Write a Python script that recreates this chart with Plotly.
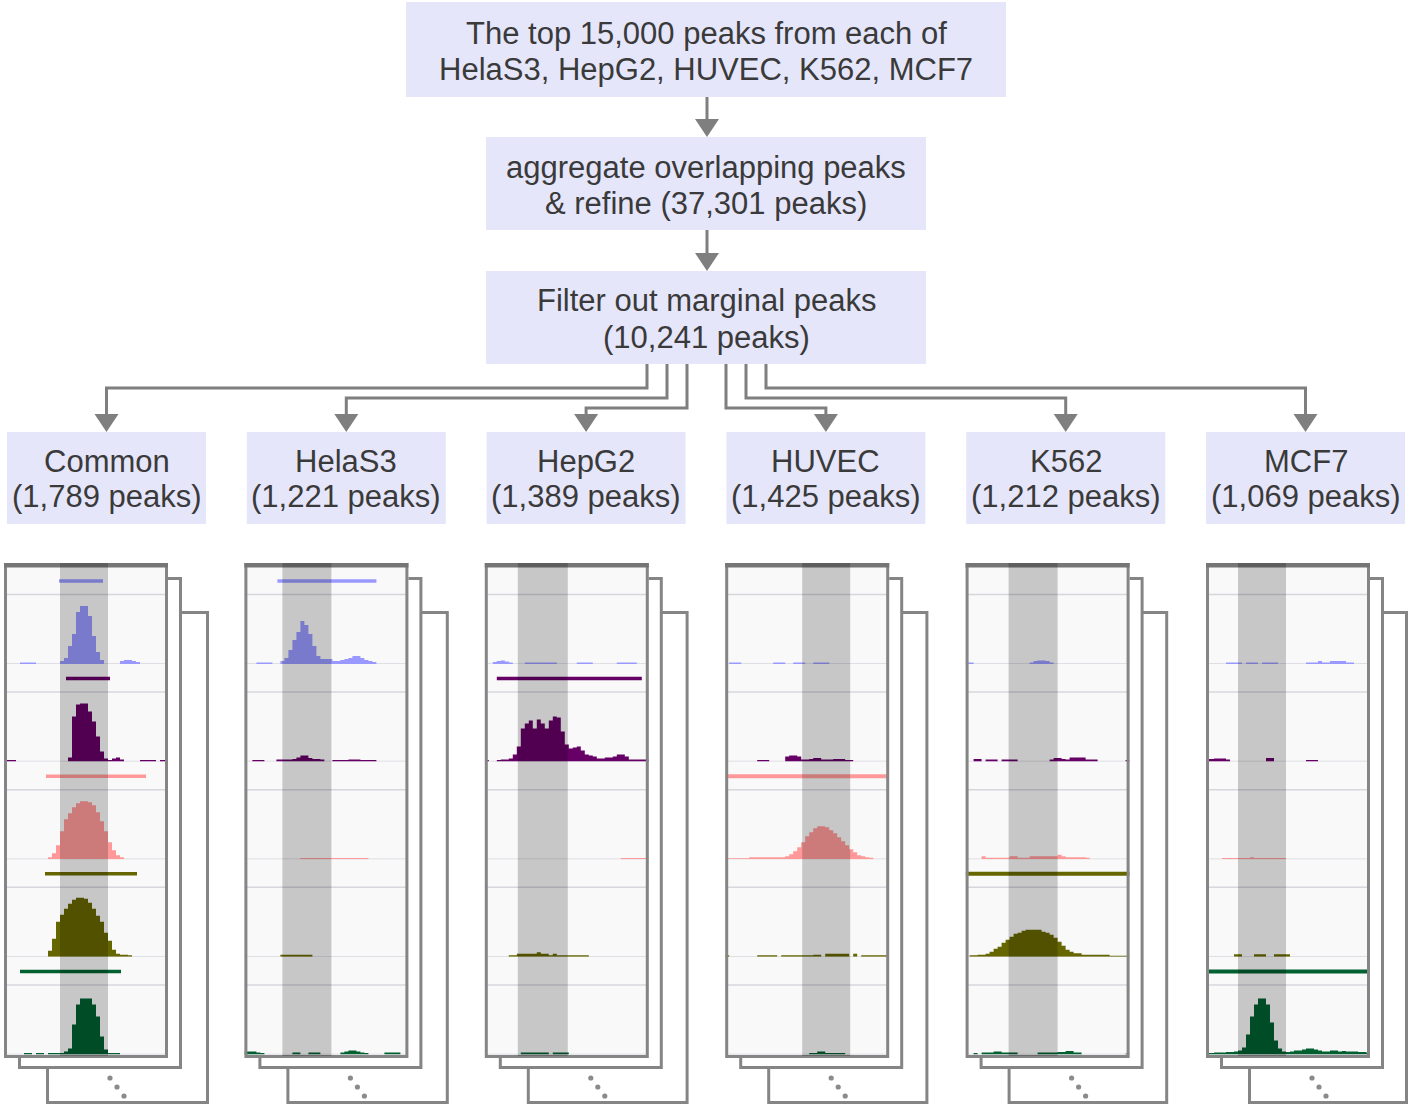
import plotly.graph_objects as go

FIG_W, FIG_H = 1408, 1105

# ---------------- flowchart text ----------------
SOURCE_LINES = ["The top 15,000 peaks from each of", "HelaS3, HepG2, HUVEC, K562, MCF7"]
MERGE_LINES = ["aggregate overlapping peaks", "& refine (37,301 peaks)"]
FILTER_LINES = ["Filter out marginal peaks", "(10,241 peaks)"]
GROUP_NAMES = ["Common", "HelaS3", "HepG2", "HUVEC", "K562", "MCF7"]
GROUP_COUNTS = ["1,789", "1,221", "1,389", "1,425", "1,212", "1,069"]

# ---------------- genome-browser tracks ----------------
TRACK_CELLS = ["HelaS3", "HepG2", "HUVEC", "K562", "MCF7"]
TRACK_COLORS = ["#9999ff", "#660066", "#ff9999", "#666600", "#006030"]
WINDOW = 164                       # width of the browser window (positions)
BIN_EDGES = list(range(0, WINDOW + 1, 4))   # 41 coverage bins
SEPARATOR_LEVEL = 69.5             # signal level of the row divider
PEAK_BAR_LEVEL = 83                # level at which called peaks are drawn
TRACK_TOP = 97.6

# highlighted group-specific region in each window
HIGHLIGHT_START = [56, 38, 33, 77, 43, 32]
HIGHLIGHT_END = [104, 87, 83, 125, 92, 80]

# called peak intervals (window, track, start, end)
PEAK_WINDOW = [0, 0, 0, 0, 0, 1, 2, 3, 4, 5]
PEAK_TRACK = [0, 1, 2, 3, 4, 0, 1, 2, 3, 4]
PEAK_START = [55, 62, 42, 41, 16, 33, 12, 0, 0, 0]
PEAK_END = [99, 106, 142, 133, 117, 132, 157, 164, 164, 164]

# coverage per bin, one list per cell line, for each window
COMMON_SIGNAL = [
    [0, 0, 0, 0, 1.5, 1.5, 1.5, 1.5, 0, 0, 0, 0, 0, 0, 3, 6, 18, 30, 52, 58,
     58, 48, 28, 12, 4, 0, 0, 0, 0, 3, 4, 4, 3, 2, 0, 0, 0, 0, 0, 0, 0],
    [1.5, 1.5, 1.5, 0, 0, 0, 0, 0, 0, 0, 0, 0, 0, 0, 0, 0, 4, 45, 57, 58,
     58, 50, 40, 25, 10, 3, 1.5, 3, 4, 2, 0, 0, 0, 0, 1.5, 1.5, 1.5, 1.5, 0, 1.5, 1.5],
    [0, 0, 0, 0, 0, 0, 0, 0, 0, 0, 0, 2, 6, 14, 28, 40, 46, 52, 56, 58,
     58, 57, 54, 47, 38, 28, 17, 9, 4, 2, 0, 0, 0, 0, 0, 0, 0, 0, 0, 0, 0],
    [0, 0, 0, 0, 0, 0, 0, 0, 0, 0, 0, 6, 18, 35, 42, 48, 53, 57, 59, 59,
     58, 54, 48, 41, 35, 24, 16, 7, 3, 2, 2, 1.5, 0, 0, 0, 0, 0, 0, 0, 0, 0],
    [0, 0, 0, 0, 0, 1.5, 1.5, 0, 1.5, 1.5, 0, 1.5, 1.5, 1.5, 1.5, 3, 6, 30, 50, 56,
     56, 56, 50, 38, 18, 5, 1.5, 1.5, 1.5, 0, 0, 0, 0, 0, 0, 0, 0, 0, 0, 0, 0],
]
HELAS3_SIGNAL = [
    [0, 0, 0, 1.5, 1.5, 1.5, 1.5, 0, 0, 3, 6, 14, 24, 32, 43, 39, 30, 18, 8, 5,
     5, 5, 3, 3, 4, 5, 6, 8, 8, 6, 4, 3, 2, 0, 0, 0, 0, 0, 0, 0, 0],
    [0, 0, 1.5, 1.5, 1.5, 0, 0, 0, 2, 2, 2, 2, 2.5, 4, 6, 6, 3.5, 2.5, 2.5, 2,
     0, 0, 1.5, 1.5, 1.5, 1.5, 2, 2, 2, 1.5, 1.5, 1.5, 1.5, 0, 0, 0, 0, 0, 0, 0, 0],
    [0, 0, 0, 0, 0, 0, 0, 0, 0, 0, 0, 0, 0, 0, 1.2, 1.2, 1.2, 1.2, 1.2, 1.2,
     1.2, 1.2, 1.2, 1.2, 1.2, 1.2, 1.2, 1.2, 1.2, 1.2, 1.2, 0, 0, 0, 0, 0, 0, 0, 0, 0, 0],
    [0, 0, 0, 0, 0, 0, 0, 0, 0, 2, 2, 2, 2, 2, 2, 2, 2, 0, 0, 0,
     0, 0, 0, 0, 0, 0, 0, 0, 0, 0, 0, 0, 0, 0, 0, 0, 0, 0, 0, 0, 0],
    [3, 3, 3, 2, 1.5, 0, 0, 0, 0, 0, 0, 0, 2, 2, 0, 0, 2, 2, 2, 0,
     0, 0, 0, 0, 2, 3, 4, 4, 3, 2, 1.5, 0, 0, 0, 0, 2, 2, 2, 2, 0, 0],
]
HEPG2_SIGNAL = [
    [0, 0, 2, 3, 3.5, 2.5, 1.5, 0, 0, 0, 1.5, 1.5, 1.5, 1.5, 1.5, 1.5, 1.5, 1.5, 0, 0,
     0, 0, 0, 1.5, 1.5, 1.5, 1.5, 0, 0, 0, 0, 0, 0, 1.5, 1.5, 1.5, 1.5, 1.5, 0, 0, 0],
    [1.5, 0, 0, 1.5, 2, 2, 3, 7, 15, 33, 38, 41, 33, 42, 38, 33, 41, 45, 44, 30,
     17, 13, 14, 15, 11, 7, 6, 5, 3, 3, 4, 4, 5, 7, 7, 5, 2, 2, 2, 2, 2],
    [0, 0, 0, 0, 0, 0, 0, 0, 0, 0, 0, 0, 0, 0, 0, 0, 0, 0, 0, 0,
     0, 0, 0, 0, 0, 0, 0, 0, 0, 0, 0, 0, 0, 0, 1.2, 1.2, 1.2, 1.2, 1.2, 1.2, 1.2],
    [0, 0, 0, 0, 0, 0, 1.5, 1.5, 3, 3, 3, 3, 3, 4.5, 3, 3, 1.5, 3, 1.5, 1.5,
     1.5, 1.5, 1.5, 1.5, 1.5, 1.5, 0, 0, 0, 0, 0, 0, 0, 0, 0, 0, 0, 0, 0, 0, 0],
    [0, 0, 0, 0, 0, 0, 0, 0, 0, 2, 2, 2, 2, 2, 2, 2, 0, 2, 2, 2,
     2, 0, 0, 0, 0, 0, 0, 0, 0, 0, 0, 0, 0, 0, 0, 0, 0, 0, 0, 0, 0],
]
HUVEC_SIGNAL = [
    [0, 1.5, 1.5, 1.5, 0, 0, 0, 0, 0, 0, 0, 0, 1.5, 1.5, 1.5, 0, 0, 1.5, 1.5, 1.5,
     0, 0, 1.5, 1.5, 1.5, 1.5, 0, 0, 0, 0, 0, 0, 0, 0, 0, 0, 0, 0, 0, 0, 0],
    [0, 0, 0, 0, 0, 0, 0, 0, 1.5, 1.5, 1.5, 0, 0, 0, 0, 5, 6, 6, 5, 2,
     2, 2.5, 3.5, 3.5, 2, 2, 2, 2.5, 2.5, 2.5, 1.5, 1.5, 0, 0, 0, 0, 0, 0, 0, 0, 0],
    [1, 1, 1, 1, 1, 1, 2, 2, 2, 2, 2, 2, 2, 2, 2, 3, 5, 8, 12, 17,
     23, 27, 31, 33, 33, 32, 29, 26, 22, 18, 14, 10, 7, 4, 3, 2, 1.5, 0, 0, 0, 0],
    [1.5, 0, 0, 0, 0, 0, 0, 0, 1.5, 1.5, 1.5, 1.5, 1.5, 0, 1.5, 1.5, 1.5, 1.5, 1.5, 1.5,
     1.5, 1.5, 2, 2, 0, 3, 3, 3, 3, 3, 3, 0, 3, 0, 1.5, 1.5, 1.5, 1.5, 1.5, 1.5, 1.5],
    [0, 0, 0, 0, 0, 0, 0, 0, 0, 0, 0, 0, 0, 0, 0, 0, 0, 0, 0, 0,
     0, 1.5, 1.5, 3, 3, 1.5, 1.5, 1.5, 1.5, 1.5, 0, 0, 0, 0, 0, 0, 0, 0, 0, 0, 0],
]
K562_SIGNAL = [
    [1.5, 1.5, 0, 0, 0, 0, 0, 0, 0, 0, 0, 0, 0, 0, 0, 0, 1.5, 3, 3.5, 3.5,
     3, 1.5, 0, 0, 0, 0, 0, 0, 0, 0, 0, 0, 0, 0, 0, 0, 0, 0, 0, 0, 0],
    [0, 0, 2.5, 2.5, 0, 2, 2, 2, 0, 2, 2, 2, 2, 0, 0, 0, 0, 0, 0, 0,
     0, 2, 3.5, 3.5, 2.5, 2, 4, 4, 4, 4, 2, 2, 2, 0, 0, 0, 0, 0, 0, 0, 1.5],
    [0, 0, 0, 0, 3, 1.5, 1.5, 1.5, 1.5, 1.5, 1.5, 3, 3, 1.5, 1.5, 1.5, 3, 3, 3, 3,
     3, 3, 3, 4.5, 3, 2, 2, 2, 2, 2, 1.5, 0, 0, 0, 0, 0, 0, 0, 0, 0, 0],
    [0, 1.5, 1.5, 2, 2, 3, 5, 8, 10, 14, 17, 20, 23, 24, 26, 27, 27, 27, 27, 25,
     24, 22, 19, 15, 11, 7, 5, 3.5, 3.5, 2, 2, 2, 2, 2, 2, 2, 1, 1, 1, 1, 1],
    [0, 0, 1.5, 0, 2, 2, 2, 3, 3, 2, 2, 2, 2, 0, 0, 0, 0, 0, 2, 2,
     2, 2, 2, 2.5, 2.5, 3.5, 3.5, 2, 2, 0, 0, 0, 0, 0, 0, 0, 0, 0, 0, 0, 1],
]
MCF7_SIGNAL = [
    [0, 0, 0, 0, 0, 1.5, 1.5, 1.5, 1.5, 0, 1.5, 1.5, 1.5, 0, 1.5, 1.5, 1.5, 1.5, 0, 0,
     0, 0, 0, 0, 0, 1.5, 1.5, 1.5, 3, 1.5, 1.5, 3, 3, 3, 3, 1.5, 1.5, 0, 0, 0, 0],
    [2.5, 2.5, 3, 3, 3, 2, 0, 0, 0, 0, 0, 0, 0, 0, 0, 3.5, 3.5, 0, 0, 0,
     0, 0, 0, 0, 0, 1.5, 1.5, 1.5, 0, 0, 0, 0, 0, 0, 0, 0, 0, 0, 0, 0, 0],
    [0, 0, 0, 0, 1.2, 1.2, 1.2, 1.2, 1.2, 1.2, 1.2, 2, 1.2, 1.2, 1.2, 1.2, 1.2, 1.2, 1.2, 1.2,
     0, 0, 0, 0, 0, 0, 0, 0, 0, 0, 0, 0, 0, 0, 0, 0, 0, 0, 0, 0, 0],
    [0, 0, 0, 0, 0, 0, 0, 2.5, 2.5, 0, 0, 0, 2.5, 2.5, 2.5, 0, 0, 2.5, 2.5, 2.5,
     2.5, 0, 0, 0, 0, 0, 0, 0, 0, 0, 0, 0, 0, 0, 0, 0, 0, 0, 0, 0, 0],
    [1.5, 1.5, 2, 2, 2, 2.5, 2.5, 3, 4, 7, 20, 38, 50, 56, 56, 50, 32, 14, 6, 3,
     2.5, 3, 4, 4, 5, 6, 6, 5, 4, 3, 3, 4, 4, 3, 3.5, 3, 3, 3, 2.5, 2.5, 2],
]
WINDOW_SIGNALS = [COMMON_SIGNAL, HELAS3_SIGNAL, HEPG2_SIGNAL,
                  HUVEC_SIGNAL, K562_SIGNAL, MCF7_SIGNAL]

# ---------------- page geometry (pixels) ----------------
BOX_FILL = "#e6e6fa"
LINK_COLOR = "#7f7f7f"
TEXT_COLOR = "#3a3a3a"
FONT = "Liberation Sans, Arial, Helvetica, sans-serif"
FONT_SIZE = 31

CARD_LEFT = [4 + 240.4 * i for i in range(6)]
CARD_TOP = 563
CARD_BOTTOM = 1058
BASELINE_0 = 664
TRACK_STEP = 97.6


def fx(x):
    return x / FIG_W


def fy(y):
    return 1 - y / FIG_H


shapes = []
annotations = []


def rect(x0, y0, x1, y1, fill, line_color=None, line_width=0, layer="below"):
    shapes.append(dict(
        type="rect", xref="paper", yref="paper",
        x0=fx(x0), x1=fx(x1), y0=fy(y1), y1=fy(y0),
        fillcolor=fill,
        line=dict(color=line_color or fill, width=line_width),
        layer=layer))


def text_lines(cx, centers, lines):
    for cy, line in zip(centers, lines):
        annotations.append(dict(
            x=fx(cx), y=fy(cy), xref="paper", yref="paper",
            text=line, showarrow=False, xanchor="center", yanchor="middle",
            font=dict(family=FONT, size=FONT_SIZE, color=TEXT_COLOR)))


def polyline(points, width=3):
    path = "M " + " L ".join(f"{fx(x):.6f},{fy(y):.6f}" for x, y in points)
    shapes.append(dict(type="path", xref="paper", yref="paper", path=path,
                       line=dict(color=LINK_COLOR, width=width), layer="below"))


def arrow_head(x, tip_y, half=12, length=18):
    pts = [(x - half, tip_y - length), (x + half, tip_y - length), (x, tip_y)]
    path = "M " + " L ".join(f"{fx(a):.6f},{fy(b):.6f}" for a, b in pts) + " Z"
    shapes.append(dict(type="path", xref="paper", yref="paper", path=path,
                       fillcolor=LINK_COLOR, line=dict(width=0), layer="below"))


# ---- flowchart boxes ----
rect(406, 2, 1006, 97, BOX_FILL)
text_lines(706, [33, 69], SOURCE_LINES)
rect(486, 137, 926, 230, BOX_FILL)
text_lines(706, [167, 203], MERGE_LINES)
rect(486, 271, 926, 364, BOX_FILL)
text_lines(706, [301, 337], FILTER_LINES)

polyline([(707, 97), (707, 122)])
arrow_head(707, 137)
polyline([(707, 230), (707, 256)])
arrow_head(707, 271)

GROUP_BOX_LEFT = [7 + 239.8 * i for i in range(6)]
BRANCH_X = [647, 667, 687, 726, 746, 766]
BRANCH_Y = [388, 398, 408, 408, 398, 388]
for i, name in enumerate(GROUP_NAMES):
    left = GROUP_BOX_LEFT[i]
    cx = left + 99.5
    rect(left, 432, left + 199, 524, BOX_FILL)
    text_lines(cx, [461, 497], [name, f"({GROUP_COUNTS[i]} peaks)"])
    polyline([(BRANCH_X[i], 364), (BRANCH_X[i], BRANCH_Y[i]),
              (cx, BRANCH_Y[i]), (cx, 416)])
    arrow_head(cx, 432)

# ---- stacked browser cards ----
CARD_EDGE = "#858585"
for i in range(6):
    L = CARD_LEFT[i]
    # back cards
    rect(L + 43.5, 612.5, L + 203.5 - 0.6 * i, 1102.5, "#ffffff", CARD_EDGE, 3)
    rect(L + 15.5, 578.5, L + 176.5, 1067.5, "#ffffff", CARD_EDGE, 3)
    # front card face
    rect(L, CARD_TOP, L + WINDOW, CARD_BOTTOM - 1, "#f9f9f9")
    # continuation dots
    for dx, dy in [(106, 1078), (113, 1087), (120, 1096)]:
        shapes.append(dict(type="circle", xref="paper", yref="paper",
                           x0=fx(L + dx - 2.6), x1=fx(L + dx + 2.6),
                           y0=fy(dy + 2.6), y1=fy(dy - 2.6),
                           fillcolor="#8a8a8a", line=dict(width=0), layer="below"))

fig = go.Figure()

# ---- coverage tracks ----
for w, signals in enumerate(WINDOW_SIGNALS):
    xa = "x" if w == 0 else f"x{w + 1}"
    for t, values in enumerate(signals):
        assert len(values) == len(BIN_EDGES) - 1
        ya = "y" if t == 0 else f"y{t + 1}"
        for level in (0, SEPARATOR_LEVEL):
            shapes.append(dict(type="line", xref=xa, yref=ya,
                               x0=0, x1=WINDOW, y0=level, y1=level,
                               line=dict(color="#d6d6df", width=1.5), layer="below"))
        fig.add_trace(go.Scatter(
            x=BIN_EDGES, y=list(values) + [values[-1]],
            mode="lines", line=dict(width=0, shape="hv"),
            fill="tozeroy", fillcolor=TRACK_COLORS[t],
            name=TRACK_CELLS[t], xaxis=xa, yaxis=ya,
            hoverinfo="skip", showlegend=False))

# ---- called peaks ----
for w, t, s, e in zip(PEAK_WINDOW, PEAK_TRACK, PEAK_START, PEAK_END):
    xa = "x" if w == 0 else f"x{w + 1}"
    ya = "y" if t == 0 else f"y{t + 1}"
    full = (s == 0 and e == WINDOW)
    fig.add_trace(go.Scatter(
        x=[s, e], y=[PEAK_BAR_LEVEL, PEAK_BAR_LEVEL], mode="lines",
        line=dict(color=TRACK_COLORS[t], width=4 if full else 3.5),
        xaxis=xa, yaxis=ya, hoverinfo="skip", showlegend=False))

# ---- front card frame and highlighted region (drawn on top) ----
for i in range(6):
    L = CARD_LEFT[i]
    xa = "x" if i == 0 else f"x{i + 1}"
    shapes.append(dict(type="rect", xref="paper", yref="paper",
                       x0=fx(L + 1.5), x1=fx(L + WINDOW - 1.5),
                       y0=fy(CARD_BOTTOM - 1.5), y1=fy(CARD_TOP + 1.5),
                       fillcolor="rgba(0,0,0,0)",
                       line=dict(color=CARD_EDGE, width=3), layer="above"))
    shapes.append(dict(type="rect", xref="paper", yref="paper",
                       x0=fx(L), x1=fx(L + WINDOW), y0=fy(CARD_TOP + 4.5), y1=fy(CARD_TOP),
                       fillcolor="#767676", line=dict(width=0), layer="above"))
    shapes.append(dict(type="rect", xref=xa, yref="paper",
                       x0=HIGHLIGHT_START[i], x1=HIGHLIGHT_END[i],
                       y0=fy(CARD_BOTTOM - 2), y1=fy(CARD_TOP),
                       fillcolor="rgba(0,0,0,0.2)", line=dict(width=0), layer="above"))

layout = dict(
    width=FIG_W, height=FIG_H,
    margin=dict(l=0, r=0, t=0, b=0),
    paper_bgcolor="#ffffff", plot_bgcolor="rgba(0,0,0,0)",
    shapes=shapes, annotations=annotations, showlegend=False,
)
for i in range(6):
    key = "xaxis" if i == 0 else f"xaxis{i + 1}"
    L = CARD_LEFT[i]
    layout[key] = dict(domain=[fx(L), fx(L + WINDOW)], range=[0, WINDOW],
                       visible=False, fixedrange=True, anchor="y")
for t in range(5):
    key = "yaxis" if t == 0 else f"yaxis{t + 1}"
    base = BASELINE_0 + TRACK_STEP * t
    layout[key] = dict(domain=[fy(base), fy(base - TRACK_TOP)], range=[0, TRACK_TOP],
                       visible=False, fixedrange=True, anchor="x")

fig.update_layout(**layout)
fig.write_html("out.html", config={"displayModeBar": False})
